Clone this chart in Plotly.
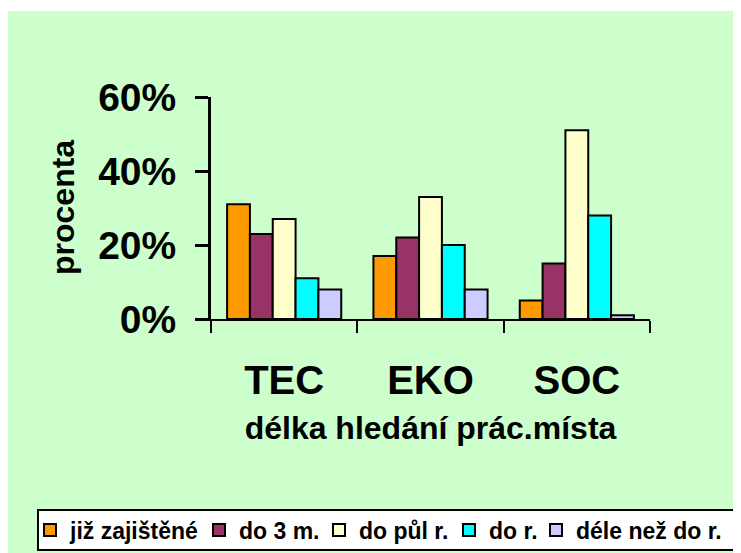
import plotly.graph_objects as go

# skupiny a kategorie delky hledani
groups = ['TEC', 'EKO', 'SOC']
series_names = ['již zajištěné', 'do 3 m.', 'do půl r.', 'do r.', 'déle než do r.']
colors = ['#FF9900', '#993366', '#FFFFCC', '#00FFFF', '#CCCCFF']

# hodnoty v procentech
jiz_zajistene = [31, 17, 5]
do_3m = [23, 22, 15]
do_pul_r = [27, 33, 51]
do_r = [11, 20, 28]
dele_nez_do_r = [8, 8, 1]

y_ticks = [0, 20, 40, 60]
y_tick_labels = ['0%', '20%', '40%', '60%']

values = [jiz_zajistene, do_3m, do_pul_r, do_r, dele_nez_do_r]
font_family = 'Liberation Sans, Arial, sans-serif'
green = '#CCFFCC'

# stranka ma 8px okraj (body margin), figura je proto o 8px mensi
W, H = 733, 545
L, R, T, B = 203, 91, 89, 234
pw, ph = W - L - R, H - T - B

def px_x(x):
    return (x - L) / pw

def px_y(y):
    return (H - B - y) / ph

# kazda polozka legendy ve vlastni legende, aby se neslo do dvou radku
legend_text_x = [60, 229, 349, 479, 566]
legend_ids = ['legend', 'legend2', 'legend3', 'legend4', 'legend5']

fig = go.Figure()
for name, vals, col, lid in zip(series_names, values, colors, legend_ids):
    fig.add_trace(go.Bar(
        x=groups, y=vals, name=name, legend=lid, showlegend=True,
        marker=dict(color=col, line=dict(color='black', width=2)),
    ))

legends = {}
for lid, tx in zip(legend_ids, legend_text_x):
    legends[lid] = dict(
        orientation='h',
        xref='container', yref='container',
        x=(tx - 38) / W, xanchor='left',
        y=1 - 522 / H, yanchor='middle',
        bgcolor='rgba(0,0,0,0)',
        borderwidth=0,
        font=dict(size=23, family=font_family, weight='bold'),
        itemwidth=30,
    )

fig.update_layout(
    width=W, height=H,
    margin=dict(l=L, r=R, t=T, b=B, autoexpand=False),
    paper_bgcolor='white',
    plot_bgcolor=green,
    showlegend=True,
    barmode='group',
    bargap=0.22,
    bargroupgap=0,
    font=dict(family=font_family, color='black', weight='bold'),
    shapes=[
        # zelene pozadi cele plochy grafu
        dict(type='rect', xref='paper', yref='paper',
             x0=px_x(-10), x1=px_x(W + 20), y0=px_y(H + 20), y1=px_y(3),
             fillcolor=green, line=dict(width=0), layer='below'),
        # ramecek legendy
        dict(type='rect', xref='paper', yref='paper',
             x0=px_x(30), x1=px_x(W + 20), y0=px_y(542), y1=px_y(502),
             fillcolor='white', line=dict(color='black', width=2), layer='above'),
    ],
    annotations=[dict(
        text='procenta', textangle=-90,
        xref='paper', yref='paper', x=px_x(55), y=0.5,
        xanchor='center', yanchor='middle', showarrow=False,
        font=dict(size=32, family=font_family, weight='bold'),
    )],
    **legends,
)

fig.update_yaxes(
    range=[0, 60],
    tickvals=y_ticks,
    ticktext=y_tick_labels,
    showgrid=False, zeroline=False,
    showline=True, linecolor='black', linewidth=3,
    ticks='outside', ticklen=13, tickwidth=3, tickcolor='black',
    tickfont=dict(size=39, family=font_family, weight='bold'),
    ticklabelstandoff=11,
)

fig.update_xaxes(
    showgrid=False,
    showline=True, linecolor='black', linewidth=2,
    ticks='outside', tickson='boundaries', ticklen=12, tickwidth=2, tickcolor='black',
    tickfont=dict(size=40, family=font_family, weight='bold'),
    ticklabelstandoff=25,
    title=dict(text='délka hledání prác.místa', font=dict(size=32, family=font_family, weight='bold'), standoff=16),
)

fig.write_html('out.html')
